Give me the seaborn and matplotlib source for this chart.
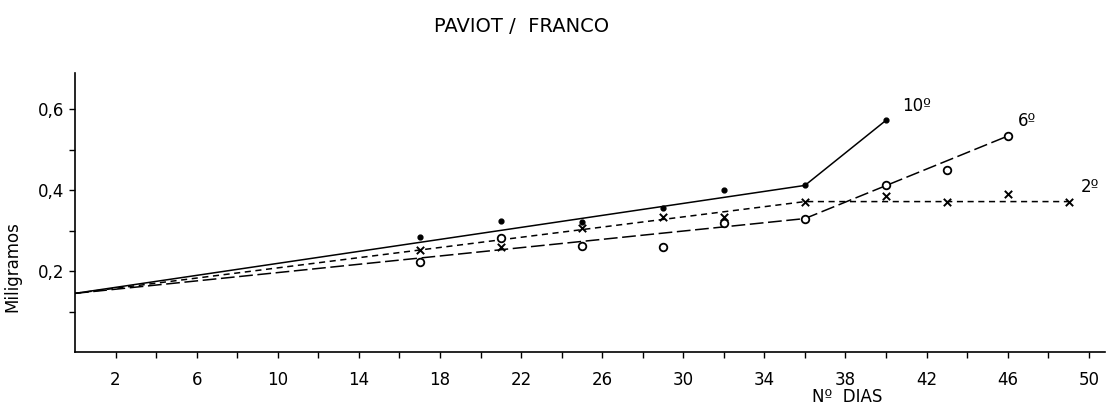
import matplotlib
matplotlib.use("Agg")
import matplotlib.pyplot as plt
from matplotlib.ticker import FixedLocator, FuncFormatter
import seaborn as sns
import pandas as pd

# measured points (days, mg)
days_10 = [17, 21, 25, 29, 32, 36, 40]
vals_10 = [0.285, 0.323, 0.322, 0.357, 0.400, 0.412, 0.573]

days_6 = [17, 21, 25, 29, 32, 36, 40, 43, 46]
vals_6 = [0.223, 0.283, 0.263, 0.260, 0.320, 0.330, 0.414, 0.450, 0.534]

days_2 = [17, 21, 25, 29, 32, 36, 40, 43, 46, 49]
vals_2 = [0.253, 0.260, 0.307, 0.335, 0.335, 0.372, 0.385, 0.372, 0.390, 0.372]

# fitted lines drawn on the chart
fit_days_10 = [0, 36, 40]
fit_vals_10 = [0.145, 0.412, 0.573]
fit_days_6 = [0, 36, 46]
fit_vals_6 = [0.145, 0.330, 0.534]
fit_days_2 = [0, 36, 49]
fit_vals_2 = [0.145, 0.372, 0.372]

x_labels = list(range(2, 51, 4))
x_minor = list(range(4, 50, 4))
y_labels = [0.2, 0.4, 0.6]
y_minor = [0.1, 0.3, 0.5]

sns.set_theme(style="ticks")
plt.rcParams['font.family'] = ['DejaVu Sans']
plt.rcParams['text.color'] = 'black'

fig = plt.figure(figsize=(11.06, 4.11), dpi=100)
ax = fig.add_axes([75 / 1106, 59 / 411, 1030 / 1106, 279 / 411])

fits = [
    (fit_days_10, fit_vals_10, None),
    (fit_days_6, fit_vals_6, (9, 3)),
    (fit_days_2, fit_vals_2, (4, 3)),
]
for d, v, dash in fits:
    df = pd.DataFrame({"dia": d, "mg": v})
    sns.lineplot(data=df, x="dia", y="mg", ax=ax, color="black",
                 linewidth=1.1, estimator=None, sort=False)
    if dash is not None:
        ax.lines[-1].set_dashes(dash)

# dots for 10º, open circles for 6º, crosses for 2º
sns.scatterplot(x=days_10, y=vals_10, ax=ax, marker="o", s=12,
                facecolor="black", edgecolor="black", linewidth=1.0, zorder=3)
sns.scatterplot(x=days_6, y=vals_6, ax=ax, marker="o", s=30,
                facecolor="white", edgecolor="black", linewidth=1.3, zorder=3)
sns.scatterplot(x=days_2, y=vals_2, ax=ax, marker="x", s=28,
                color="black", linewidth=1.4, zorder=3)

ax.set_xlim(0, 50.8)
ax.set_ylim(0, 0.69)
sns.despine(ax=ax)
ax.spines['left'].set_linewidth(1.2)
ax.spines['bottom'].set_linewidth(1.2)
ax.spines['left'].set_color('black')
ax.spines['bottom'].set_color('black')

ax.xaxis.set_major_locator(FixedLocator(x_labels))
ax.xaxis.set_minor_locator(FixedLocator(x_minor))
ax.yaxis.set_major_locator(FixedLocator(y_labels))
ax.yaxis.set_minor_locator(FixedLocator(y_minor))
ax.yaxis.set_major_formatter(FuncFormatter(lambda v, p: f"{v:.1f}".replace('.', ',')))
ax.tick_params(axis='both', which='both', direction='out', length=4, width=1,
               color='black', labelsize=12, labelcolor='black')
ax.tick_params(axis='x', pad=10)

ax.set_xlabel("Nº  DIAS", fontsize=12, color='black')
ax.xaxis.set_label_coords((847 - 75) / 1030, -0.13)
ax.set_ylabel("Miligramos", fontsize=12, color='black')
ax.yaxis.set_label_coords(-0.052, (352 - 267) / 279)

ax.text(40.8, 0.585, "10º", fontsize=12, ha='left', va='bottom', color='black')
ax.text(46.5, 0.548, "6º", fontsize=12, ha='left', va='bottom', color='black')
ax.text(49.6, 0.385, "2º", fontsize=12, ha='left', va='bottom', color='black')

fig.text(522 / 1106, 1 - 27 / 411, "PAVIOT /  FRANCO", fontsize=14,
         ha='center', va='center', color='black')

fig.savefig("out.png", dpi=100)
